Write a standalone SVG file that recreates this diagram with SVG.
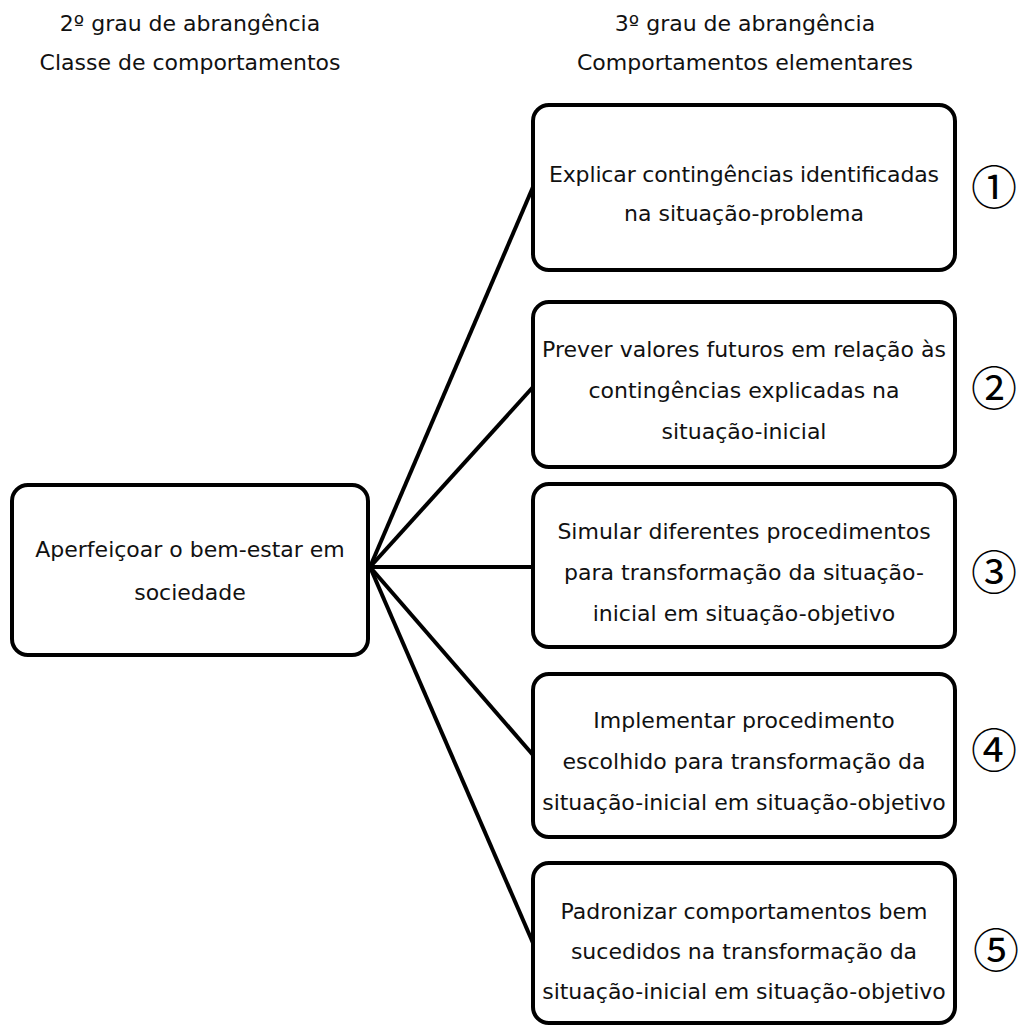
<svg xmlns="http://www.w3.org/2000/svg" width="1019" height="1026" viewBox="0 0 1019 1026">
  <style>
    .box { fill: #ffffff; stroke: #000000; stroke-width: 4; }
    .lbl { font-family: "DejaVu Sans", Verdana, sans-serif; font-size: 22px; fill: #111111; text-anchor: middle; }
    .num { font-family: "Noto Sans CJK JP", "DejaVu Sans", sans-serif; font-size: 46px; fill: #000000; text-anchor: middle; }
    .edge { stroke: #000000; stroke-width: 4; fill: none; }
  </style>
  <rect width="1019" height="1026" fill="#ffffff"/>

  <!-- column headings -->
  <g id="heading-left">
    <text class="lbl" x="190" y="31">2º grau de abrangência</text>
    <text class="lbl" x="190" y="70">Classe de comportamentos</text>
  </g>
  <g id="heading-right">
    <text class="lbl" x="745" y="31">3º grau de abrangência</text>
    <text class="lbl" x="745" y="70">Comportamentos elementares</text>
  </g>

  <!-- connectors from the class node to each elementary behaviour -->
  <g id="connectors">
    <line class="edge" x1="370" y1="567" x2="533" y2="187"/>
    <line class="edge" x1="370" y1="567" x2="533" y2="387"/>
    <line class="edge" x1="370" y1="567" x2="533" y2="567"/>
    <line class="edge" x1="370" y1="567" x2="533" y2="755"/>
    <line class="edge" x1="370" y1="567" x2="533" y2="943"/>
  </g>

  <g id="node-class">
    <rect class="box" x="12" y="485" width="356" height="170" rx="16"/>
    <text class="lbl" x="190" y="557">Aperfeiçoar o bem-estar em</text>
    <text class="lbl" x="190" y="600">sociedade</text>
  </g>

  <g id="node-1">
    <rect class="box" x="533" y="105" width="422" height="165" rx="16"/>
    <text class="lbl" x="744" y="182" textLength="390" lengthAdjust="spacing">Explicar contingências identificadas</text>
    <text class="lbl" x="744" y="221">na situação-problema</text>
    <text class="num" x="994" y="204">①</text>
  </g>

  <g id="node-2">
    <rect class="box" x="533" y="302" width="422" height="165" rx="16"/>
    <text class="lbl" x="744" y="357" textLength="404" lengthAdjust="spacing">Prever valores futuros em relação às</text>
    <text class="lbl" x="744" y="398">contingências explicadas na</text>
    <text class="lbl" x="744" y="439">situação-inicial</text>
    <text class="num" x="994" y="405">②</text>
  </g>

  <g id="node-3">
    <rect class="box" x="533" y="484" width="422" height="163" rx="16"/>
    <text class="lbl" x="744" y="539">Simular diferentes procedimentos</text>
    <text class="lbl" x="744" y="580">para transformação da situação-</text>
    <text class="lbl" x="744" y="621">inicial em situação-objetivo</text>
    <text class="num" x="994" y="589">③</text>
  </g>

  <g id="node-4">
    <rect class="box" x="533" y="674" width="422" height="163" rx="16"/>
    <text class="lbl" x="744" y="728">Implementar procedimento</text>
    <text class="lbl" x="744" y="769">escolhido para transformação da</text>
    <text class="lbl" x="744" y="810">situação-inicial em situação-objetivo</text>
    <text class="num" x="994" y="767">④</text>
  </g>

  <g id="node-5">
    <rect class="box" x="533" y="863" width="422" height="160" rx="16"/>
    <text class="lbl" x="744" y="919">Padronizar comportamentos bem</text>
    <text class="lbl" x="744" y="959">sucedidos na transformação da</text>
    <text class="lbl" x="744" y="999">situação-inicial em situação-objetivo</text>
    <text class="num" x="996" y="967">⑤</text>
  </g>
</svg>
